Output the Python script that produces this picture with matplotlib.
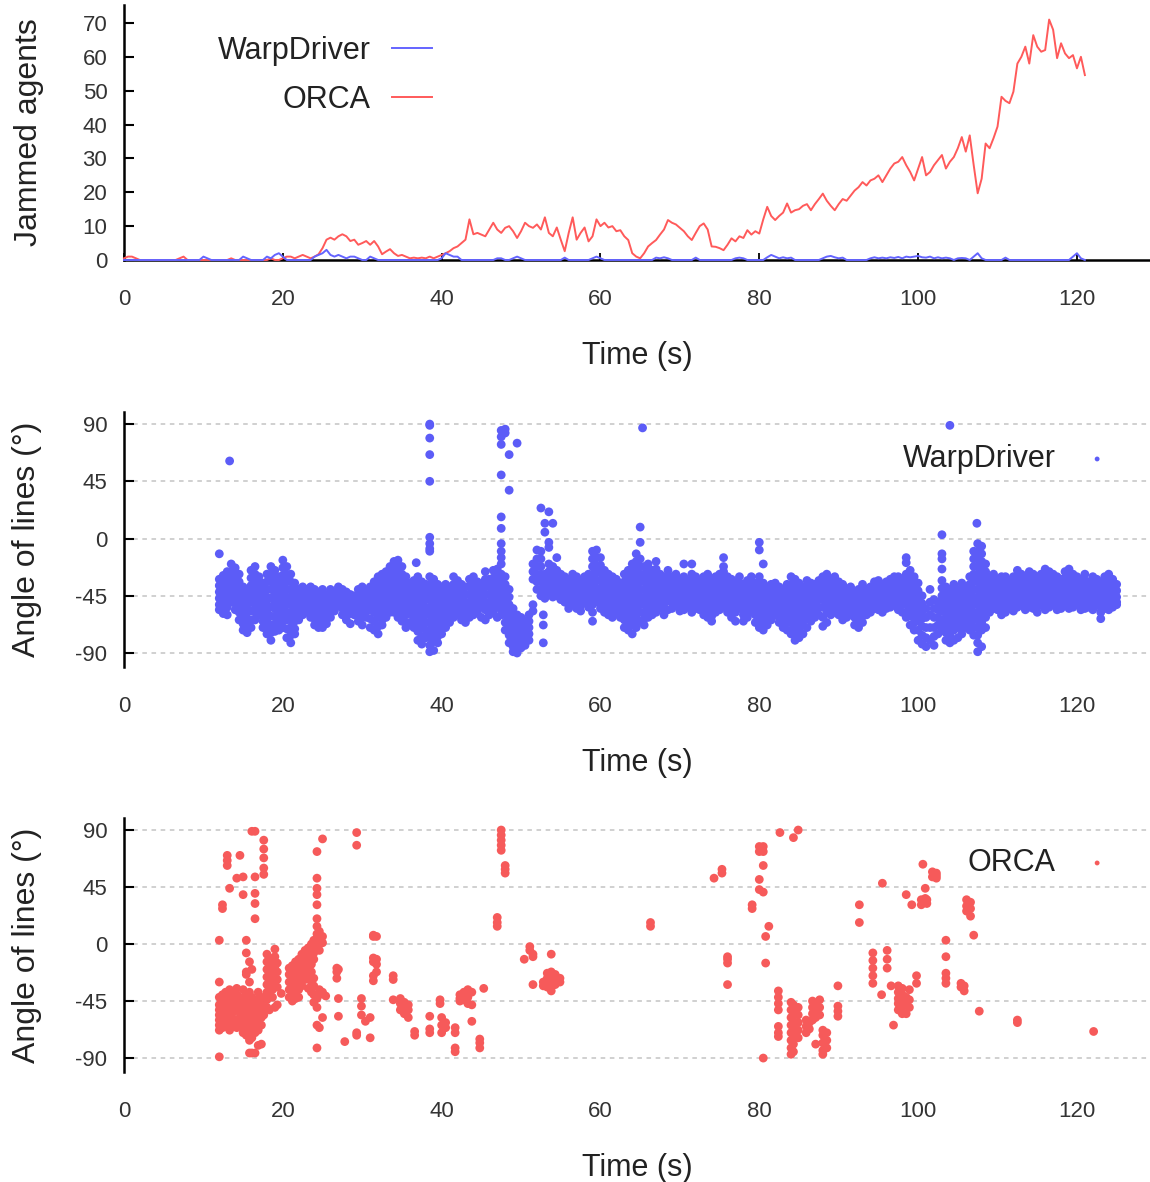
import numpy as np
import matplotlib
matplotlib.use('Agg')
import matplotlib.pyplot as plt

plt.rcParams['font.family'] = ['Liberation Sans', 'DejaVu Sans']
plt.rcParams['axes.unicode_minus'] = False

BLUE = '#5c5cf7'
RED = '#f65a5a'
LINE_BLUE = '#6464ff'
LINE_RED = '#ff5a5a'
TXT = '#222222'

# ---- panel 1: jammed agents over time ----
# WarpDriver: breakpoints of the (mostly zero) line
wd_t = [0, 9.5, 10, 10.5, 11, 14.5, 15, 15.5, 16, 17.5,
        18, 18.5, 19, 19.5, 20, 20.5, 23.5, 24, 24.5, 25,
        25.5, 26, 26.5, 27, 27.5, 28, 28.5, 29, 29.5, 30,
        30.5, 31, 31.5, 32, 39.5, 40, 40.5, 41, 41.5, 42,
        42.5, 46.5, 47, 47.5, 48, 48.5, 49, 49.5, 50, 50.5,
        55, 55.5, 56, 58.5, 59, 59.5, 60, 60.5, 66.5, 67,
        67.5, 68, 68.5, 69, 71.5, 72, 72.5, 76.5, 77, 77.5,
        78, 78.5, 80.5, 81, 81.5, 82, 82.5, 83, 83.5, 84,
        84.5, 87.5, 88, 88.5, 89, 89.5, 90, 90.5, 91, 93.5,
        94, 94.5, 95, 95.5, 96, 96.5, 97, 97.5, 98, 98.5,
        99, 99.5, 100, 100.5, 101, 101.5, 102, 102.5, 103, 103.5,
        104, 104.5, 105, 105.5, 106, 106.5, 107, 107.5, 108, 108.5,
        110.5, 111, 111.5, 119, 119.5, 120, 120.5, 121]
wd_jam = [0, 0, 1, 0.5, 0, 0, 1, 0.5, 0, 0,
          1, 0.5, 1.5, 2, 1, 0, 0, 1, 1.5, 2,
          3, 1.5, 1, 1.5, 1, 0.5, 1, 1, 0.5, 0,
          0, 1, 0.5, 0, 0, 0.5, 2, 1.5, 1, 1,
          0, 0, 0.5, 0.5, 0, 0, 0.5, 1, 0.5, 0,
          0, 0.7, 0, 0, 0.5, 1, 0.5, 0, 0, 0.7,
          0.5, 0.8, 0.5, 0, 0, 0.7, 0, 0, 0.5, 0.7,
          0.5, 0, 0, 0.8, 1.5, 1, 0.5, 0.8, 0.5, 0.7,
          0, 0, 0.5, 1, 1.2, 0.8, 0.5, 0.7, 0, 0,
          0.5, 0.8, 0.5, 0.7, 0.5, 0.8, 0.6, 0.9, 0.5, 1,
          0.8, 1, 1.2, 0.8, 0.7, 1, 0.5, 0.8, 0.5, 0.7,
          0.5, 0, 0.5, 0.6, 0.5, 0, 1, 2, 0.5, 0,
          0, 0.7, 0, 0, 1, 2, 0.5, 0]

# ORCA: one sample every 0.5 s from 0 to 121 s
orca_jam = [0.5, 1, 1, 0.5, 0, 0, 0, 0, 0, 0,
            0, 0, 0, 0, 0.5, 1, 0, 0, 0, 0,
            0, 0, 0, 0, 0, 0, 0, 0.5, 0, 0,
            0, 0, 0, 0, 0, 0, 0, 0.5, 0, 0,
            0.5, 1, 1, 0.5, 1, 1.5, 1, 0.5, 1, 1.7,
            3.5, 6, 6.6, 6, 7, 7.6, 7, 5.6, 6, 4.5,
            5, 5.6, 4.5, 5.6, 4, 1.7, 2.5, 3.2, 2, 1.2,
            1.5, 1, 0.5, 0.7, 0.5, 0.7, 0.5, 1, 0.5, 1,
            1.5, 2, 2.6, 3.5, 4, 5, 6, 12, 7.6, 8,
            7.5, 7, 9, 11, 9, 8, 9.5, 10, 8.5, 6.5,
            8.5, 11, 10, 9.5, 10.5, 9, 12.6, 8, 7, 9.6,
            6, 2.6, 8, 12.6, 6, 8, 9.6, 5.5, 7, 12,
            10, 11, 9.6, 10, 8.5, 8.8, 7, 5.9, 2, 1,
            0.5, 2, 4, 5, 5.9, 7.5, 9, 11.8, 11, 10.5,
            9.5, 8.5, 7, 5.9, 8, 10, 10.8, 9, 4, 3.9,
            3.5, 2.9, 4.5, 6.4, 5.5, 7, 6.5, 8.8, 7.5, 8.5,
            7.8, 12, 15.7, 13, 11.8, 13, 14, 16.7, 14, 14.7,
            15, 16, 16.5, 14.7, 16.5, 18, 19.6, 17.5, 16, 14.7,
            16.5, 18, 17.5, 19, 20.5, 21.5, 23, 22, 23.5, 24,
            25, 23, 25, 27, 28.5, 29, 30.4, 28, 26, 23.5,
            27, 30.4, 25, 26, 28, 29.5, 31, 27, 29, 30.4,
            33, 36.3, 32, 36.8, 28, 19.7, 24, 34.4, 33, 36,
            39.4, 48.2, 47, 46.3, 49.7, 58, 60, 63, 58, 66.4,
            63, 61.5, 62, 71, 68, 59.6, 64, 61, 59.6, 60.5,
            56.6, 60, 54.6]
orca_t = np.arange(len(orca_jam)) * 0.5

# ---- panel 2: WarpDriver line angles, (time, [angles]) ----
wd_columns = [
    (12.0, [-12, -32, -37, -42, -47, -52, -56]),
    (12.5, [-29, -34, -39, -44, -49, -54, -59]),
    (13.0, [-26, -31, -37, -43, -48, -54, -60]),
    (13.3, [61]),
    (13.5, [-20, -26, -32, -38, -44, -50]),
    (14.0, [-23, -29, -35, -41, -46, -51, -56]),
    (14.5, [-28, -34, -40, -46, -52, -58, -64]),
    (15.0, [-38, -44, -50, -56, -62, -67, -72]),
    (15.5, [-40, -46, -52, -58, -63, -68, -74]),
    (16.0, [-25, -31, -37, -43, -50, -57, -64, -70]),
    (16.5, [-22, -28, -34, -40, -46, -52, -58, -64]),
    (17.0, [-30, -36, -42, -48, -54, -60]),
    (17.5, [-35, -41, -47, -53, -59, -65, -70]),
    (18.0, [-28, -34, -40, -46, -52, -58, -64, -70, -75]),
    (18.5, [-22, -28, -34, -40, -47, -54, -61, -68, -74, -80]),
    (19.0, [-25, -31, -37, -43, -49, -55, -61, -67, -73]),
    (19.5, [-30, -36, -42, -48, -54, -60, -66, -72]),
    (20.0, [-17, -23, -29, -35, -41, -47, -53, -59, -65, -70]),
    (20.5, [-22, -28, -34, -40, -46, -52, -58, -64, -71, -78]),
    (21.0, [-28, -34, -40, -46, -52, -58, -64, -70, -76, -82]),
    (21.5, [-35, -41, -47, -53, -59, -65, -71, -75]),
    (22.0, [-40, -46, -52, -58, -64]),
    (22.5, [-38, -44, -49, -55, -60]),
    (23.0, [-40, -45, -50, -54, -58]),
    (23.5, [-38, -44, -50, -56, -62]),
    (24.0, [-40, -46, -52, -58, -63, -68]),
    (24.5, [-42, -48, -54, -60, -65, -70]),
    (25.0, [-40, -46, -52, -58, -64, -70]),
    (25.5, [-44, -50, -56, -62, -67]),
    (26.0, [-40, -46, -52, -57, -62]),
    (26.5, [-42, -47, -52, -57]),
    (27.0, [-38, -43, -48, -53]),
    (27.5, [-40, -45, -50, -55, -60]),
    (28.0, [-42, -47, -52, -58, -64]),
    (28.5, [-44, -49, -54, -59, -67]),
    (29.0, [-45, -50, -55, -60]),
    (29.5, [-40, -46, -52, -58, -65]),
    (30.0, [-38, -44, -50, -56, -62, -68]),
    (30.5, [-42, -47, -52, -57, -62]),
    (31.0, [-38, -44, -50, -56, -63, -70]),
    (31.5, [-34, -40, -46, -52, -58, -65, -72]),
    (32.0, [-30, -36, -42, -48, -55, -62, -69, -75]),
    (32.5, [-28, -34, -40, -46, -52, -58, -64, -68]),
    (33.0, [-26, -32, -38, -44, -50, -56, -62]),
    (33.5, [-22, -28, -34, -40, -46, -52, -58]),
    (34.0, [-18, -24, -30, -36, -42, -48, -54, -58]),
    (34.5, [-17, -23, -29, -35, -41, -47, -53, -58, -62]),
    (35.0, [-22, -28, -34, -40, -46, -52, -58, -65]),
    (35.5, [-30, -36, -42, -48, -54, -60, -66, -70]),
    (36.0, [-35, -41, -47, -53, -59, -66]),
    (36.5, [-33, -39, -45, -51, -57, -63, -70]),
    (36.8, [-19]),
    (37.0, [-30, -36, -42, -48, -54, -60, -66, -73, -80]),
    (37.5, [-34, -40, -46, -52, -58, -64, -70, -77, -83]),
    (38.0, [-36, -42, -48, -54, -60, -66, -72, -78]),
    (38.5, [90, 89, 79, 66, 45, 1, -4, -8, -10, -30, -36, -42, -48,
            -54, -60, -66, -72, -78, -84, -89]),
    (39.0, [-32, -38, -44, -50, -56, -62, -68, -74, -81, -88]),
    (39.5, [-36, -42, -48, -54, -60, -66, -72, -77, -82]),
    (40.0, [-38, -44, -50, -56, -62, -68, -75]),
    (40.5, [-36, -42, -48, -54, -60, -65, -70]),
    (41.0, [-38, -44, -50, -55, -60, -66]),
    (41.5, [-30, -36, -42, -48, -54, -58, -62]),
    (42.0, [-33, -39, -45, -50, -55, -60]),
    (42.5, [-36, -42, -48, -54, -59, -64]),
    (43.0, [-38, -44, -50, -56, -61, -66]),
    (43.5, [-32, -38, -44, -50, -56, -62]),
    (44.0, [-30, -36, -42, -48, -54, -60]),
    (44.5, [-34, -40, -46, -52, -58]),
    (45.0, [-36, -42, -48, -54, -62]),
    (45.5, [-26, -32, -38, -44, -50, -56, -64]),
    (46.0, [-32, -38, -44, -50, -55, -60]),
    (46.5, [-25, -31, -37, -43, -49, -54, -58]),
    (47.0, [-24, -30, -36, -42, -48, -54, -62]),
    (47.5, [85, 80, 74, 50, 17, 8, -4, -10, -15, -20, -28, -34, -40,
            -46, -52, -56, -60]),
    (48.0, [86, 83, -30, -36, -42, -48, -54, -60, -66, -72]),
    (48.5, [66, 38, -40, -46, -52, -58, -64, -70, -76, -82]),
    (49.0, [-55, -61, -67, -73, -79, -85, -89]),
    (49.5, [75, -60, -66, -72, -78, -84, -90]),
    (50.0, [-62, -68, -74, -80, -86]),
    (50.5, [-65, -70, -75, -80, -84]),
    (51.0, [-60, -65, -70, -75, -80]),
    (51.5, [-20, -26, -32, -52, -57]),
    (52.0, [-9, -16, -22, -28, -34, -40]),
    (52.5, [24, -10, -16, -22, -28, -34, -40, -45]),
    (52.8, [-60, -68, -82]),
    (53.0, [12, 5, -28, -33, -38, -43, -47]),
    (53.5, [21, -3, -7, -20, -26, -32, -38, -44]),
    (54.0, [12, -22, -28, -34, -40, -46]),
    (54.5, [-15, -25, -30, -35, -40, -45]),
    (55.0, [-28, -33, -38, -43, -48]),
    (55.5, [-30, -35, -40, -45, -50]),
    (56.0, [-32, -37, -42, -47, -52, -55]),
    (56.5, [-28, -33, -38, -43, -48, -52]),
    (57.0, [-30, -35, -40, -45, -50, -55]),
    (57.5, [-33, -38, -43, -48, -53, -57]),
    (58.0, [-30, -35, -40, -45, -50]),
    (58.5, [-28, -33, -38, -43, -49, -54]),
    (59.0, [-10, -16, -22, -28, -34, -40, -46, -52, -58, -65]),
    (59.5, [-9, -15, -21, -27, -33, -39, -45, -50]),
    (60.0, [-15, -21, -27, -33, -39, -45, -50, -55]),
    (60.5, [-25, -31, -37, -43, -49, -54, -58]),
    (61.0, [-28, -34, -40, -46, -52, -56, -60]),
    (61.5, [-30, -36, -42, -48, -54, -58, -62]),
    (62.0, [-32, -38, -44, -50, -54, -58]),
    (62.5, [-35, -41, -47, -53, -58, -62]),
    (63.0, [-28, -34, -40, -46, -52, -58, -64, -70]),
    (63.5, [-25, -31, -37, -43, -49, -55, -61, -67, -72]),
    (64.0, [-20, -26, -32, -38, -44, -50, -56, -62, -68, -75]),
    (64.5, [-12, -18, -24, -30, -36, -42, -48, -54, -60, -65, -70]),
    (65.0, [9, -3, -16, -22, -28, -34, -40, -46, -52, -58, -65]),
    (65.3, [87]),
    (65.5, [-22, -28, -34, -40, -46, -52, -58, -63, -68]),
    (66.0, [-20, -26, -32, -38, -44, -50, -56, -62]),
    (66.5, [-25, -31, -37, -43, -49, -55, -60]),
    (67.0, [-18, -24, -30, -36, -42, -48, -53, -58]),
    (67.5, [-28, -34, -40, -45, -50, -55]),
    (68.0, [-30, -36, -42, -48, -54, -60]),
    (68.5, [-25, -31, -37, -43, -49, -56]),
    (69.0, [-30, -35, -40, -45, -50, -55]),
    (69.5, [-28, -33, -38, -43, -48, -52]),
    (70.0, [-32, -37, -42, -47, -52, -57]),
    (70.5, [-20, -30, -35, -40, -45, -50, -56]),
    (71.0, [-33, -38, -43, -48, -54]),
    (71.5, [-20, -28, -33, -38, -43, -48, -53, -58]),
    (72.0, [-30, -35, -40, -45, -50, -55]),
    (72.5, [-34, -39, -44, -49, -53, -56]),
    (73.0, [-30, -35, -40, -45, -50, -55, -60]),
    (73.5, [-28, -33, -38, -43, -48, -53, -58, -62]),
    (74.0, [-32, -37, -42, -47, -52, -57, -61, -65]),
    (74.5, [-30, -35, -40, -45, -50, -54, -58]),
    (75.0, [-28, -33, -38, -43, -48, -52, -56]),
    (75.5, [-15, -22, -26, -31, -36, -41, -46, -50, -54]),
    (76.0, [-30, -35, -40, -45, -50, -54, -58]),
    (76.5, [-32, -37, -42, -47, -52, -57, -62]),
    (77.0, [-34, -39, -44, -49, -54, -58, -65]),
    (77.5, [-30, -35, -40, -45, -50, -55]),
    (78.0, [-36, -41, -46, -51, -56, -60, -65]),
    (78.5, [-33, -38, -43, -48, -53, -58, -62]),
    (79.0, [-30, -35, -40, -45, -50, -54, -58]),
    (79.5, [-35, -40, -45, -50, -55, -60, -66]),
    (80.0, [-3, -9, -30, -35, -40, -46, -52, -58, -64, -70]),
    (80.5, [-20, -35, -41, -47, -53, -59, -65, -72]),
    (81.0, [-38, -43, -48, -53, -58, -63, -68]),
    (81.5, [-36, -41, -46, -51, -56, -60, -64]),
    (82.0, [-35, -40, -45, -50, -55, -60]),
    (82.5, [-38, -43, -48, -53, -58, -62, -66]),
    (83.0, [-40, -45, -50, -55, -60, -65, -70]),
    (83.5, [-36, -41, -46, -51, -56, -61, -66, -72]),
    (84.0, [-30, -36, -42, -48, -54, -60, -66, -72, -75]),
    (84.5, [-32, -38, -44, -50, -56, -62, -68, -74, -80]),
    (85.0, [-35, -41, -47, -53, -59, -65, -71, -78]),
    (85.5, [-38, -44, -50, -56, -62, -68, -75]),
    (86.0, [-33, -39, -45, -51, -57, -63, -70]),
    (86.5, [-35, -40, -45, -50, -55, -60, -65]),
    (87.0, [-36, -41, -46, -51, -56, -62]),
    (87.5, [-33, -38, -43, -48, -54, -60]),
    (88.0, [-30, -36, -42, -48, -54, -62, -69]),
    (88.5, [-28, -34, -40, -46, -52, -58, -66]),
    (89.0, [-32, -37, -42, -47, -52, -56, -60]),
    (89.5, [-30, -35, -40, -45, -50, -54, -58]),
    (90.0, [-34, -39, -44, -49, -54, -60]),
    (90.5, [-36, -41, -46, -51, -56, -60, -64]),
    (91.0, [-40, -45, -50, -55, -58, -62]),
    (91.5, [-38, -43, -48, -53, -57, -60]),
    (92.0, [-42, -47, -52, -57, -62, -68]),
    (92.5, [-40, -45, -50, -55, -60, -65, -70]),
    (93.0, [-36, -41, -46, -51, -56, -61, -66]),
    (93.5, [-40, -45, -50, -55, -60]),
    (94.0, [-38, -43, -48, -53, -58]),
    (94.5, [-34, -39, -44, -49, -55]),
    (95.0, [-33, -38, -43, -48, -52, -56]),
    (95.5, [-36, -41, -46, -50, -54, -58]),
    (96.0, [-34, -39, -44, -49, -55]),
    (96.5, [-32, -37, -42, -47, -51, -54]),
    (97.0, [-30, -35, -40, -45, -49, -52]),
    (97.5, [-30, -35, -40, -45, -50, -56]),
    (98.0, [-32, -37, -42, -47, -52, -58]),
    (98.5, [-15, -19, -28, -34, -40, -46, -52, -58, -62]),
    (99.0, [-25, -31, -37, -43, -49, -55, -61, -68]),
    (99.5, [-30, -36, -42, -48, -54, -60, -66, -72]),
    (100.0, [-35, -41, -47, -53, -59, -65, -72, -80]),
    (100.5, [-45, -51, -57, -63, -69, -76, -83]),
    (101.0, [-55, -62, -70, -78, -85]),
    (101.5, [-40, -50, -60, -70, -80]),
    (102.0, [-48, -55, -62, -70, -77, -84]),
    (102.5, [-50, -56, -62, -68, -75]),
    (103.0, [3, -12, -16, -24, -33, -39, -45, -51, -57, -64, -72]),
    (103.5, [-38, -44, -50, -56, -62, -68, -74, -80]),
    (104.0, [89, -40, -46, -52, -58, -64, -70, -76, -82]),
    (104.5, [-36, -42, -48, -54, -60, -66, -72, -80]),
    (105.0, [-40, -46, -52, -58, -64, -70, -78]),
    (105.5, [-35, -41, -47, -53, -59, -65, -70, -75]),
    (106.0, [-38, -44, -50, -56, -62, -66, -70]),
    (106.5, [-30, -36, -42, -48, -54, -60, -66, -72]),
    (107.0, [-10, -16, -22, -28, -34, -40, -46, -52, -58, -64, -70, -76]),
    (107.4, [12]),
    (107.5, [-4, -10, -16, -22, -28, -34, -40, -46, -52, -58, -64, -70,
             -76, -82, -89]),
    (108.0, [-6, -12, -18, -24, -30, -36, -42, -48, -54, -60, -66, -72, -85]),
    (108.5, [-20, -26, -32, -38, -44, -50, -56, -62, -70]),
    (109.0, [-30, -35, -40, -45, -50, -54, -58]),
    (109.5, [-28, -33, -38, -43, -48, -52, -55]),
    (110.0, [-32, -37, -42, -47, -52, -56]),
    (110.5, [-30, -35, -40, -45, -50, -55, -60]),
    (111.0, [-30, -35, -40, -45, -50, -54, -58]),
    (111.5, [-33, -38, -43, -48, -52, -55]),
    (112.0, [-30, -35, -40, -45, -50, -54, -57]),
    (112.5, [-25, -30, -35, -40, -45, -50, -54]),
    (113.0, [-28, -33, -38, -43, -48, -52]),
    (113.5, [-30, -35, -40, -45, -50, -56]),
    (114.0, [-26, -31, -36, -41, -46, -50, -54]),
    (114.5, [-28, -33, -38, -43, -48, -52, -55]),
    (115.0, [-30, -35, -40, -45, -50, -54, -58]),
    (115.5, [-28, -33, -38, -43, -48, -52]),
    (116.0, [-24, -29, -34, -39, -44, -49, -53, -56]),
    (116.5, [-26, -31, -36, -41, -46, -50, -54]),
    (117.0, [-28, -33, -38, -43, -48, -52]),
    (117.5, [-30, -35, -40, -45, -50, -56]),
    (118.0, [-32, -37, -42, -47, -51, -55]),
    (118.5, [-26, -31, -36, -41, -46, -52]),
    (119.0, [-24, -29, -34, -39, -44, -49, -55]),
    (119.5, [-28, -33, -38, -43, -48, -54]),
    (120.0, [-30, -35, -40, -45, -49, -52]),
    (120.5, [-32, -37, -42, -47, -52, -56]),
    (121.0, [-28, -33, -38, -43, -48, -52, -55]),
    (121.5, [-34, -39, -44, -49, -54]),
    (122.0, [-30, -35, -40, -45, -50, -56]),
    (122.5, [-32, -37, -42, -47, -52]),
    (123.0, [-34, -39, -44, -49, -54, -58, -63]),
    (123.5, [-30, -35, -40, -45, -50, -55]),
    (124.0, [-28, -33, -38, -43, -48, -52, -56]),
    (124.5, [-32, -37, -42, -47, -51, -54]),
    (125.0, [-36, -41, -46, -50, -52]),
]

# ---- panel 3: ORCA line angles, (time, [angles]) ----
orca_columns = [
    (12.0, [3, -30, -42, -48, -52, -56, -60, -64, -68, -89]),
    (12.4, [31, 28, -40, -46, -50, -55, -58, -62, -66]),
    (12.8, [-38, -44, -48, -52, -57, -61, -65]),
    (13.0, [70, 66, 62, -42, -47, -53, -58, -63]),
    (13.3, [44, -36, -40, -50, -56, -60, -68]),
    (13.7, [-38, -44, -49, -54, -59, -63]),
    (14.2, [52, -35, -40, -46, -52, -60, -66]),
    (14.6, [70, -42, -48, -54, -58, -62]),
    (15.0, [53, 39, -36, -44, -50, -56, -60, -66, -70]),
    (15.4, [3, -7, -22, -24, -40, -46, -52, -58, -64, -72]),
    (15.8, [-14, -30, -38, -45, -50, -55, -62, -68, -76, -86]),
    (16.1, [89, -20, -42, -48, -54, -60, -66, -74, -86]),
    (16.5, [89, 53, 40, 32, 20, -44, -50, -57, -63, -70, -86]),
    (16.9, [-38, -46, -52, -56, -62, -68, -80]),
    (17.3, [-42, -48, -54, -58, -64, -79]),
    (17.6, [82, 75, 68, 60, 55, -50, -56]),
    (18.0, [-8, -14, -20, -26, -32, -38, -44, -50]),
    (18.3, [-11, -17, -22, -28, -34, -40, -52]),
    (18.7, [-14, -20, -25, -30, -36, -42]),
    (19.0, [-4, -10, -18, -24, -29, -50]),
    (19.3, [-15, -22, -28, -34, -48]),
    (19.8, [-39]),
    (20.8, [-19, -24, -30, -36, -42]),
    (21.2, [-17, -22, -28, -35, -40, -45]),
    (21.6, [-14, -20, -26, -32, -38, -43]),
    (22.0, [-12, -18, -24, -30, -36, -42]),
    (22.4, [-8, -14, -20, -27, -33]),
    (22.8, [-5, -10, -16, -22, -28]),
    (23.2, [-3, -8, -13, -19, -25, -35]),
    (23.6, [0, -5, -10, -16, -22, -30, -38]),
    (23.9, [3, -2, -7, -12, -27, -33, -40, -46]),
    (24.3, [73, 52, 44, 39, 31, 20, 14, 8, 4, -2, -43, -50, -64, -82]),
    (24.6, [10, 5, 0, -5, -36, -40, -66]),
    (25.0, [83, 6, 1, -38, -58]),
    (25.4, [-41]),
    (26.8, [-19, -22, -27]),
    (27.0, [-20, -43, -57]),
    (27.8, [-77]),
    (29.3, [88, 78, -70, -72]),
    (29.9, [-43, -49, -56]),
    (30.4, [-61]),
    (31.0, [-74, -58]),
    (31.4, [6, 7, -11, -14, -25, -29]),
    (31.8, [6, -12, -16, -22]),
    (33.9, [-44, -25, -28]),
    (34.8, [-43, -47, -52]),
    (35.3, [-46, -50, -55]),
    (35.8, [-48, -52, -58]),
    (36.6, [-69, -72]),
    (38.5, [-57, -67, -70]),
    (39.8, [-44, -47]),
    (40.0, [-58, -64, -70]),
    (40.5, [-62, -66]),
    (41.7, [-66, -70, -82, -85]),
    (42.3, [-40, -43, -45]),
    (42.8, [-38, -41, -44]),
    (43.3, [-36, -39, -42, -47]),
    (43.8, [-38, -48, -61]),
    (44.8, [-75, -78, -82]),
    (45.3, [-35]),
    (47.0, [21, 17, 14]),
    (47.5, [90, 86, 82, 78, 74]),
    (48.0, [62, 59, 56]),
    (50.4, [-12]),
    (51.1, [-2, -5]),
    (51.5, [-8, -10, -32]),
    (52.8, [-30, -33]),
    (53.3, [-23, -27, -31, -34]),
    (53.8, [-8, -22, -26, -30, -34, -37]),
    (54.3, [-24, -28, -32]),
    (54.9, [-27, -30]),
    (66.3, [17, 14]),
    (74.3, [52]),
    (75.3, [59, 56]),
    (76.0, [-10, -12, -15, -32]),
    (79.1, [31, 28]),
    (80.0, [77, 73, 51, 43]),
    (80.5, [77, 73, 62, 41, -90]),
    (80.8, [6, -15]),
    (81.2, [14]),
    (82.4, [-37, -42, -47, -52, -65, -70, -73]),
    (82.6, [88]),
    (84.0, [-46, -52, -58, -64, -70, -76, -82, -87]),
    (84.3, [84, -48, -55, -61, -67, -73, -79, -85]),
    (84.9, [90, -50, -56, -62, -68, -74]),
    (85.9, [-60, -65, -70]),
    (86.3, [-62, -67]),
    (86.7, [-45, -50, -55, -60]),
    (87.1, [-48, -53, -58, -79]),
    (87.6, [-44, -50, -56]),
    (88.0, [-68, -72, -78, -84, -87]),
    (88.5, [-70, -76, -82]),
    (89.9, [-33, -49, -53, -57]),
    (92.6, [31, 17]),
    (94.3, [-7, -13, -19, -25, -31]),
    (95.4, [-40]),
    (95.5, [48]),
    (96.1, [-5, -12, -19]),
    (96.6, [-33]),
    (96.9, [-64]),
    (97.5, [-33, -38, -43, -47, -52]),
    (98.0, [-35, -40, -45, -50, -55]),
    (98.5, [39, -42, -47, -55]),
    (98.9, [-36, -44, -50]),
    (99.2, [31]),
    (99.8, [-25, -31]),
    (100.4, [35, 31]),
    (100.6, [63]),
    (100.9, [44, 36]),
    (101.1, [35, 32]),
    (101.8, [57, 53]),
    (102.3, [56, 54, 52]),
    (103.5, [3, -10, -23, -27, -31]),
    (105.4, [-31, -34]),
    (105.8, [-33, -37]),
    (106.1, [35, 30, 26]),
    (106.6, [33, 28, 22]),
    (107.0, [7]),
    (107.7, [-53]),
    (112.5, [-62, -60]),
    (122.1, [-69]),
]

x_ticks = [0, 20, 40, 60, 80, 100, 120]
jam_ticks = [0, 10, 20, 30, 40, 50, 60, 70]
angle_ticks = [-90, -45, 0, 45, 90]


def flatten(columns):
    t, a = [], []
    for tt, angs in columns:
        t += [tt] * len(angs)
        a += angs
    return np.array(t), np.array(a)


W, H = 1150, 1182
fig = plt.figure(figsize=(W / 100, H / 100), dpi=100)


def px_rect(left, top, right, bottom):
    return [left / W, 1 - bottom / H, (right - left) / W, (bottom - top) / H]


ax1 = fig.add_axes(px_rect(124, 5, 1150, 260))
ax2 = fig.add_axes(px_rect(124, 412, 1150, 667))
ax3 = fig.add_axes(px_rect(124, 818, 1150, 1072))


def style(ax, bottom_axis):
    ax.set_xlim(0, 129.2)
    ax.set_xticks(x_ticks)
    for s in ['top', 'right']:
        ax.spines[s].set_visible(False)
    ax.spines['left'].set_linewidth(1.8)
    ax.spines['bottom'].set_linewidth(1.8)
    ax.spines['bottom'].set_visible(bottom_axis)
    ax.tick_params(axis='y', direction='in', length=7, width=1.5,
                   labelsize=16, labelcolor='#333333', pad=12)
    ax.tick_params(axis='x', direction='in', length=5 if bottom_axis else 0,
                   width=1.3, labelsize=16, labelcolor='#333333', pad=21)
    ax.set_xlabel('Time (s)', fontsize=22, color=TXT, labelpad=22)


# panel 1
style(ax1, True)
ax1.plot(wd_t, wd_jam, color=LINE_BLUE, lw=1.4, label='WarpDriver',
         zorder=4, clip_on=False)
ax1.plot(orca_t, orca_jam, color=LINE_RED, lw=1.4, label='ORCA', zorder=3,
         clip_on=False)
ax1.set_ylim(0, 75.3)
ax1.set_yticks(jam_ticks)
ax1.set_ylabel('Jammed agents', fontsize=23, color=TXT, labelpad=28)
ax1.legend(loc='upper right', bbox_to_anchor=(432 / W, 1 - 36 / H),
           bbox_transform=fig.transFigure, frameon=False, markerfirst=False,
           fontsize=22, handlelength=1.3, handletextpad=0.7, borderpad=0,
           borderaxespad=0, labelspacing=0.62, labelcolor=TXT)

# panels 2 and 3
for ax, cols, color, name, top in [(ax2, wd_columns, BLUE, 'WarpDriver', 444),
                                   (ax3, orca_columns, RED, 'ORCA', 848)]:
    style(ax, False)
    t, a = flatten(cols)
    ax.set_ylim(-101, 99.5)
    ax.set_yticks(angle_ticks)
    for g in angle_ticks:
        ax.axhline(g, color='#c4c4c4', lw=1.1, ls=(0, (3, 3)), zorder=1)
    ax.scatter(t, a, s=40, color=color, edgecolors='none', label=name,
               zorder=3, clip_on=False)
    ax.set_ylabel('Angle of lines (°)', fontsize=23, color=TXT, labelpad=24)
    ax.legend(loc='upper right', bbox_to_anchor=(1117 / W, 1 - top / H),
              bbox_transform=fig.transFigure, frameon=False,
              markerfirst=False, fontsize=22, handlelength=1.3,
              handletextpad=0.7, borderpad=0, borderaxespad=0,
              scatterpoints=1, markerscale=0.55, labelcolor=TXT)

fig.savefig('out.png', dpi=100)
